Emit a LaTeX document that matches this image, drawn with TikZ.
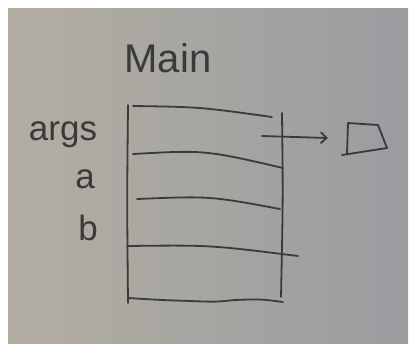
\documentclass[tikz,border=0pt]{standalone}
\usepackage{fontspec}
\setmainfont{Liberation Sans}
\usetikzlibrary{arrows.meta}
\definecolor{paperL}{HTML}{B3AEA3}
\definecolor{paperR}{HTML}{9A9CA0}
\definecolor{pencil}{HTML}{3A3A3A}
\begin{document}
\begin{tikzpicture}[x=1pt,y=-1pt,
  pen/.style={draw=pencil, line width=1.8pt, line cap=round, line join=round},
  hand/.style={text=pencil, inner sep=0pt, anchor=base},
  title/.style={hand, font=\fontsize{40}{40}\selectfont},
  var/.style={hand, font=\fontsize{35}{35}\selectfont}]
\useasboundingbox (0,0) rectangle (412,343);
% paper
\fill[white] (0,0) rectangle (412,343);
\shade[left color=paperL, right color=paperR] (8,8) rectangle (408,343);

% frame title and variable names
\node[title] (main) at (168,72) {Main};
\node[var] (args) at (63,140) {args};
\node[var] (a) at (85,188) {a};
\node[var] (b) at (88,240) {b};

% frame sides
\draw[pen] (128,105) .. controls (127,200) .. (128,303);
\draw[pen] (282,113) .. controls (283,200) .. (281,297);

% slot separators
\draw[pen] (133,106) .. controls (200,107) .. (272,117);
\draw[pen] (133,154) .. controls (205,150) .. (283,168);
\draw[pen] (137,199) .. controls (210,196) .. (280,209);
\draw[pen] (127,246) .. controls (210,245) .. (298,256);
\draw[pen] (128,298) .. controls (160,300) .. (190,301) .. controls (215,302) .. (235,300) .. controls (260,299) .. (283,302);

% reference from args to the array object
\coordinate (argsval) at (262,136);
\coordinate (arrleft) at (328,138);
\draw[pen, -{Straight Barb[length=6pt,width=11pt]}] (argsval) -- (arrleft);

% array object
\draw[pen] (347,154) -- (348,123) -- (378,125) -- (387,148) -- (342,155);
\end{tikzpicture}
\end{document}
